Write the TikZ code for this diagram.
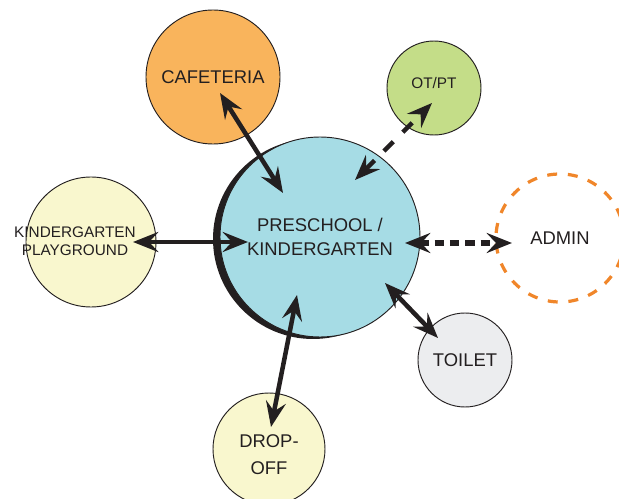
\documentclass[tikz,border=0pt]{standalone}
\usepackage{fontspec}
\setmainfont{Liberation Sans}
\usetikzlibrary{arrows.meta,calc}
\definecolor{ink}{HTML}{231F20}
\definecolor{schoolblue}{HTML}{A6DCE5}
\definecolor{cafeorange}{HTML}{F9B45C}
\definecolor{otgreen}{HTML}{C4DD88}
\definecolor{paleyellow}{HTML}{F9F7CE}
\definecolor{toiletgray}{HTML}{ECEDEF}
\definecolor{adminorange}{HTML}{F0862A}
\begin{document}
\begin{tikzpicture}[x=0.75pt,y=-0.75pt,
    room/.style={circle,draw=ink,line width=0.7pt,text=ink,align=center,inner sep=0pt,
        font=\fontsize{13.8}{18.5}\selectfont},
    small/.style={font=\fontsize{11.5}{13.5}\selectfont},
    link/.style={draw=ink,line width=3.4pt,
        {Stealth[length=19pt,width=15pt,inset=7pt]}-{Stealth[length=19pt,width=15pt,inset=7pt]}},
    dashlink/.style={link,dash pattern=on 7pt off 4.5pt}]
            %\draw[lightgray] (0, 0) grid[step=50] (619, 499);
            \clip (0, 0) rectangle (619, 499);
            \fill[ink] (313, 239) circle[radius=75pt];
            \node[room, fill=schoolblue, minimum size=150pt] (main) at (320, 237) {PRESCHOOL /\\KINDERGARTEN};
            \node[room, fill=cafeorange, minimum size=100.5pt] (caf) at (213, 77) {CAFETERIA};
            \node[room, small, fill=otgreen, minimum size=70.5pt] (otpt) at (434, 88) {\raisebox{7pt}{OT/PT}};
            \node[room, fill=paleyellow, minimum size=97.5pt] (play) at (91, 242) {};
            \node[small, text=ink, align=center] (playtext) at (75, 241) {KINDERGARTEN\\PLAYGROUND};
            \node[room, draw=adminorange, line width=2.4pt, dash pattern=on 7.5pt off 8pt,
                minimum size=96pt] (admin) at (560, 238) {ADMIN};
            \node[room, fill=toiletgray, minimum size=70.5pt] (toilet) at (465, 360) {TOILET};
            \node[room, fill=paleyellow, minimum size=84pt] (drop) at (269, 449) {\\[0pt]DROP-\\[2pt]OFF};
            \coordinate (cafA) at ($(caf) + (7, 16)$);
            \coordinate (cafB) at ($(main) + (-37, -44)$);
            \coordinate (otA) at ($(main) + (35, -57)$);
            \coordinate (otB) at ($(otpt) + (-2, 15)$);
            \coordinate (playA) at ($(play) + (42, 0)$);
            \coordinate (playB) at ($(main) + (-72, 5)$);
            \coordinate (adminA) at ($(main) + (85, 6)$);
            \coordinate (adminB) at ($(admin) + (-48, 5)$);
            \coordinate (toiletA) at ($(main) + (65, 46)$);
            \coordinate (toiletB) at ($(toilet) + (-27, -22)$);
            \coordinate (dropA) at ($(main) + (-23, 58)$);
            \coordinate (dropB) at ($(drop) + (2, -22)$);
            \draw[link] (cafA) -- (cafB);
            \draw[dashlink, dash pattern=on 10pt off 10pt] (otA) -- (otB);
            \draw[link] (playA) -- (playB);
            \draw[dashlink, line width=4pt] (adminA) -- (adminB);
            \draw[link] (toiletA) -- (toiletB);
            \draw[link] (dropA) -- (dropB);
\end{tikzpicture}
\end{document}
